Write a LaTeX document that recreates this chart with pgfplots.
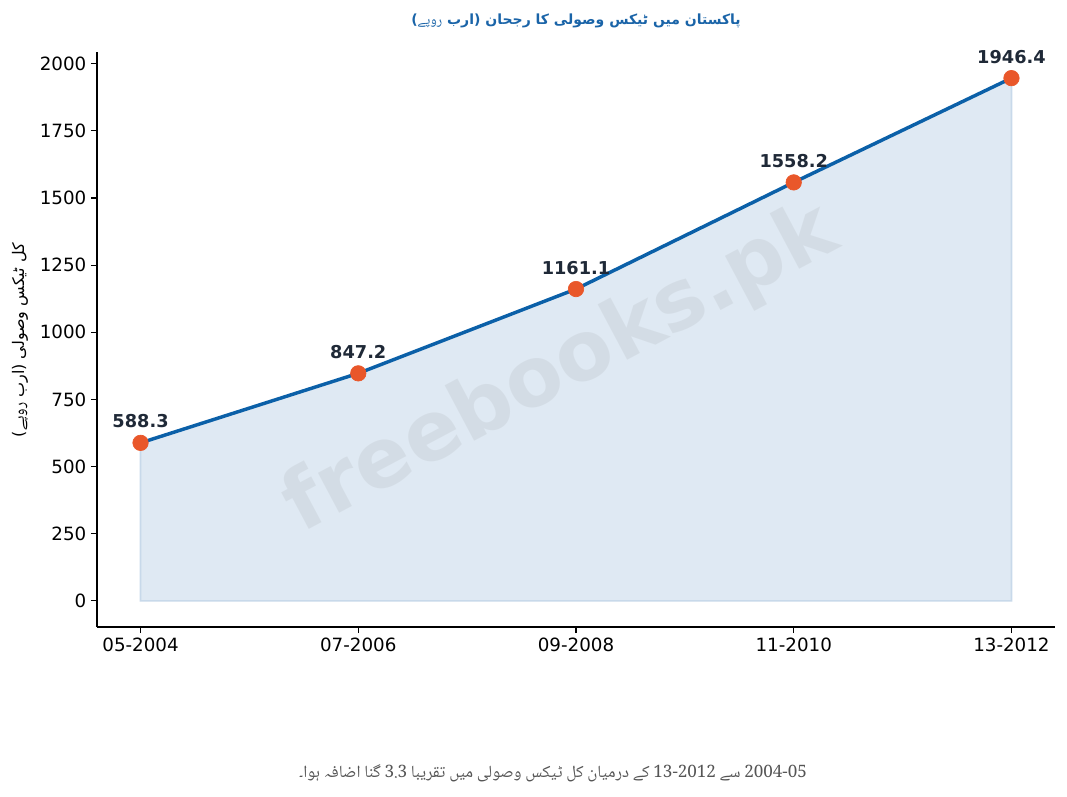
\documentclass[border=0pt]{standalone}
\usepackage{fontspec}
\setmainfont{DejaVu Sans}
\newfontfamily\urdu[Script=Arabic]{DejaVu Sans}
\IfFontExistsTF{Noto Naskh Arabic}
  {\newfontfamily\urdux[Script=Arabic]{Noto Naskh Arabic}}
  {\newfontfamily\urdux[Script=Arabic]{DejaVu Sans}}
\TeXXeTstate=1
\usepackage{pgfplots}
\pgfplotsset{compat=1.18}

\definecolor{linec}{HTML}{0B60A8}
\definecolor{markc}{HTML}{E9572A}
\definecolor{fillc}{HTML}{DFE9F3}
\definecolor{edgec}{HTML}{C8D9EA}
\definecolor{titlec}{HTML}{1A64A8}
\definecolor{labc}{HTML}{1F2937}
\definecolor{notec}{HTML}{555555}

\begin{document}
\begin{tikzpicture}
  % page frame: 1 px = 0.75pt, axis box lower-left at (0,0)
  \path[use as bounding box] (-72.75pt,-126.75pt) rectangle (727.5pt,470.25pt);
  \begin{axis}[
    at={(0,0)}, anchor=south west,
    scale only axis,
    width=718.5pt, height=431.25pt,
    xmin=-0.2, xmax=4.2,
    ymin=-97.32, ymax=2043.7,
    axis lines=left,
    axis line style={-, line width=0.8pt},
    tick align=outside,
    tick style={black, line width=0.8pt},
    major tick length=4.5pt,
    xtick={0,1,2,3,4},
    xticklabels={05-2004,07-2006,09-2008,11-2010,13-2012},
    ytick={0,250,...,2000},
    /pgf/number format/1000 sep={},
    /pgf/number format/assume math mode=true,
    ticklabel style={font=\fontsize{13.7}{15}\selectfont},
    clip=false,
  ]
    \addplot[draw=edgec, line width=1.2pt, fill=fillc] coordinates {
      (0,588.3) (1,847.2) (2,1161.1) (3,1558.2) (4,1946.4)
    } \closedcycle;

    \addplot[color=linec, line width=2.6pt, mark=*,
      mark options={fill=markc, draw=markc, line width=0.5pt},
      mark size=5.8pt,
      point meta=y,
      nodes near coords={\pgfmathprintnumber[fixed,precision=1,fixed zerofill]{\pgfplotspointmeta}},
      every node near coord/.append style={anchor=center, yshift=16pt,
        text=labc, font=\bfseries\fontsize{13.3}{15}\selectfont},
    ] coordinates {
      (0,588.3) (1,847.2) (2,1161.1) (3,1558.2) (4,1946.4)
    };
  \end{axis}

  % watermark
  \node[rotate=28, text=black!55, opacity=0.10, font=\bfseries\fontsize{62}{70}\selectfont]
    at (348pt,193pt) {freebooks.pk};

  % title
  \node[text=titlec, font=\urdu\bfseries\fontsize{10.5}{13}\selectfont]
    at (359.25pt,454.5pt)
    {\beginR پاکستان میں ٹیکس وصولی کا رجحان (ارب {\urdux\bfseries روپے})\endR};

  % y label
  \node[rotate=90, font=\urdu\fontsize{12}{14}\selectfont]
    at (-57.75pt,215.25pt) {\beginR کل ٹیکس وصولی (ارب {\urdux روپے})\endR};

  % note
  \node[text=notec, font=\urdux\fontsize{12.8}{15}\selectfont]
    at (342pt,-109.5pt)
    {\beginR 2004-05 سے 13-2012 کے درمیان کل ٹیکس وصولی میں تقریبا 3.3 گنا اضافہ ہوا۔\endR};
\end{tikzpicture}
\end{document}
